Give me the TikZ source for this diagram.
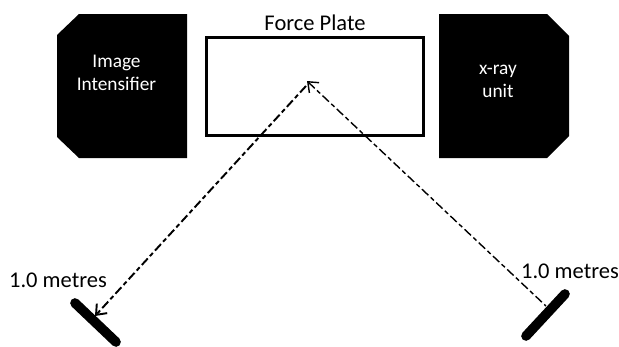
\documentclass[tikz,border=0pt]{standalone}
\usepackage{fontspec}
\setmainfont{Carlito}
\usetikzlibrary{arrows.meta}
\tikzset{
  unitbox/.style={fill=black,draw=none},
  whitetext/.style={text=white,font=\fontsize{11pt}{13pt}\selectfont},
  blacktext/.style={font=\fontsize{12.8pt}{15pt}\selectfont},
  dimline/.style={>={Straight Barb[length=5pt,width=8pt]},dash pattern=on 5pt off 1.8pt on 2.5pt off 1.8pt},
  bar/.style={line width=5.5pt,line cap=round}
}
\begin{document}
\begin{tikzpicture}
  \useasboundingbox (0,0) rectangle (12.38,6.92);
  \fill[unitbox] (1.58,6.64) -- (3.74,6.64) -- (3.74,3.76) -- (1.58,3.76) -- (1.14,4.18) -- (1.14,6.22) -- cycle;
  \fill[unitbox] (8.78,6.64) -- (10.94,6.64) -- (11.38,6.2) -- (11.38,4.2) -- (10.94,3.76) -- (8.78,3.76) -- cycle;
  \node[draw,line width=1.7pt,minimum width=4.34cm,minimum height=1.97cm,inner sep=0pt] (plate) at (6.3,5.19) {};
  \node[blacktext] (platetext) at (6.3,6.47) {Force Plate};
  \node[whitetext,align=center] (intensifiertext) at (2.33,5.46) {Image\\Intensifier};
  \node[whitetext,align=center] (xraytext) at (9.96,5.3) {x-ray\\unit};
  \node[blacktext] (lefttext) at (1.16,1.32) {1.0 metres};
  \node[blacktext] (righttext) at (11.4,1.5) {1.0 metres};
  \coordinate (apex) at (6.14,5.3);
  \coordinate (leftapex) at (6.12,5.2);
  \coordinate (leftend) at (1.9,0.6);
  \coordinate (rightend) at (10.92,0.8);
  \coordinate (leftbara) at (1.5,0.86);
  \coordinate (leftbarb) at (2.32,0.08);
  \coordinate (rightbara) at (11.3,1.04);
  \coordinate (rightbarb) at (10.52,0.2);
  \draw[->,dimline,line width=1.1pt] (leftapex) -- (leftend);
  \draw[<-,dimline,line width=.8pt] (apex) -- (rightend);
  \draw[bar] (leftbara) -- (leftbarb);
  \draw[bar] (rightbara) -- (rightbarb);
\end{tikzpicture}
\end{document}
